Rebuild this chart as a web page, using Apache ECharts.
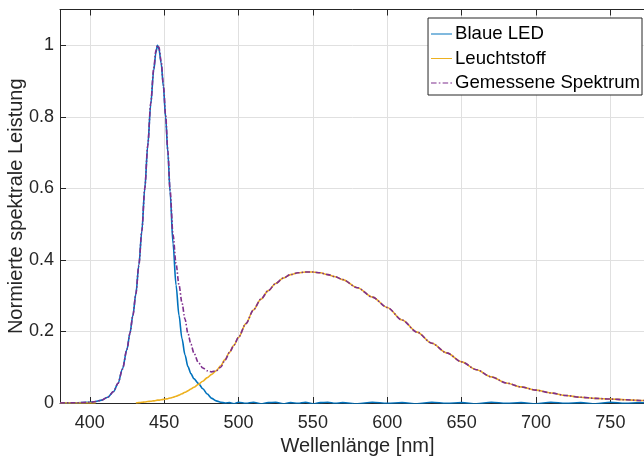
<!DOCTYPE html>
<html>
<head>
<meta charset="utf-8">
<title>Spektrum weiße LED</title>
<script src="https://cdn.jsdelivr.net/npm/echarts@6/dist/echarts.min.js"></script>
<style>
  html, body { margin: 0; padding: 0; background: #ffffff; }
  #chart { width: 644px; height: 457px; }
</style>
</head>
<body>
<div id="chart"></div>
<script>
// Wavelength samples [nm]
const wavelengths = [
  380, 390, 400, 404, 408, 412, 416, 419, 422, 425, 427, 429, 431, 433, 435, 437, 439, 441, 443,
  444.5, 445.5, 446.5, 448, 449.5, 451, 452.5, 454, 456, 458, 460, 462, 464, 466, 468, 470,
  473, 476, 479, 482, 485, 488, 491, 494, 497, 500, 505, 510, 515, 520, 525, 530, 535, 540,
  545, 550, 555, 560, 565, 570, 580, 590, 600, 610, 620, 630, 640, 650, 660, 670, 680, 690,
  700, 710, 720, 730, 740, 750, 760, 770, 780
];

// Blue LED emission (normalised)
const blueLed = [
  0, 0.0005, 0.002, 0.004, 0.008, 0.016, 0.032, 0.055, 0.095, 0.15, 0.195, 0.245, 0.305, 0.385, 0.48, 0.6, 0.72, 0.835, 0.93,
  0.98, 1.0, 0.99, 0.95, 0.885, 0.8, 0.7, 0.59, 0.445, 0.33, 0.245, 0.18, 0.135, 0.102, 0.082, 0.068,
  0.055, 0.04, 0.025, 0.013, 0.006, 0.002, 0, 0.001, -0.002, 0.002, -0.001, 0.002, -0.002, 0.001, 0.002, -0.002, 0.001, -0.001,
  0.002, -0.002, 0.001, 0.002, -0.001, 0.001, -0.002, 0.002, -0.001, 0.001, -0.002, 0.002, -0.001, 0.001, -0.002, 0.002, -0.001, 0.001,
  -0.002, 0.002, -0.001, 0.001, -0.002, 0.002, -0.001, 0.001, 0
];

// Phosphor emission (normalised); no samples between 404 and 429 nm
const phosphor = [
  0, 0, 0, 0, null, null, null, null, null, null, null, null, 0, 0.001, 0.002, 0.003, 0.004, 0.005, 0.006,
  0.007, 0.008, 0.008, 0.009, 0.01, 0.011, 0.012, 0.014, 0.016, 0.019, 0.022, 0.026, 0.03, 0.034, 0.039, 0.044,
  0.052, 0.061, 0.071, 0.08, 0.09, 0.104, 0.122, 0.142, 0.162, 0.183, 0.222, 0.26, 0.29, 0.314, 0.334, 0.349, 0.359, 0.364,
  0.366, 0.366, 0.364, 0.359, 0.353, 0.345, 0.322, 0.296, 0.267, 0.232, 0.198, 0.167, 0.14, 0.115, 0.093, 0.073, 0.056, 0.045,
  0.036, 0.028, 0.021, 0.016, 0.013, 0.011, 0.009, 0.007, 0.006
];

// Measured total spectrum (normalised)
const measured = [
  0, 0.0005, 0.002, 0.004, 0.008, 0.016, 0.032, 0.055, 0.095, 0.15, 0.195, 0.245, 0.305, 0.385, 0.48, 0.6, 0.72, 0.838, 0.935,
  0.985, 1.0, 0.995, 0.955, 0.89, 0.805, 0.705, 0.595, 0.47, 0.39, 0.33, 0.28, 0.235, 0.195, 0.165, 0.14,
  0.113, 0.098, 0.09, 0.087, 0.09, 0.1, 0.12, 0.142, 0.162, 0.184, 0.222, 0.26, 0.29, 0.314, 0.334, 0.349, 0.359, 0.364,
  0.366, 0.366, 0.364, 0.359, 0.353, 0.345, 0.322, 0.296, 0.267, 0.232, 0.198, 0.167, 0.14, 0.115, 0.093, 0.073, 0.056, 0.045,
  0.036, 0.028, 0.021, 0.016, 0.013, 0.011, 0.009, 0.007, 0.006
];

const xTicks = [400, 450, 500, 550, 600, 650, 700, 750];
const yTicks = [0, 0.2, 0.4, 0.6, 0.8, 1];

const seriesNames = ['Blaue LED', 'Leuchtstoff', 'Gemessene Spektrum'];
const seriesColors = ['#0072BD', '#EDB120', '#7E2F8E'];

// Legend glyphs: solid strokes and a dash-dot stroke
const solidIcon = 'path://M0,0h21v1h-21z';
const dashDotIcon = 'path://M0,0h5v1h-5z M7,0h1.5v1h-1.5z M10.5,0h5v1h-5z M17.5,0h1.5v1h-1.5z';
const legendIcons = [solidIcon, solidIcon, dashDotIcon];

const pairs = (ys) => wavelengths.map((w, i) => [w, ys[i]]);

const axisColor = '#262626';
const fontFamily = '"Liberation Sans", Arial, Helvetica, sans-serif';

const chart = echarts.init(document.getElementById('chart'), null, { renderer: 'canvas' });

chart.setOption({
  backgroundColor: '#ffffff',
  animation: false,
  textStyle: { fontFamily: fontFamily },
  grid: { left: 60, top: 9.5, right: -11, bottom: 54, containLabel: false, outerBoundsMode: 'none' },
  legend: {
    orient: 'vertical',
    right: 2,
    top: 18,
    selectedMode: false,
    backgroundColor: '#ffffff',
    borderColor: axisColor,
    borderWidth: 1,
    borderRadius: 0,
    padding: [6, 2, 2, 3],
    itemGap: 4.5,
    itemWidth: 21,
    itemHeight: 1.6,
    textStyle: { fontSize: 18.6, color: '#000000', padding: [0, 0, 0, -2], lineHeight: 20, fontFamily: fontFamily },
    data: seriesNames.map((n, i) => ({ name: n, icon: legendIcons[i], itemStyle: { color: seriesColors[i] } }))
  },
  xAxis: [
    {
      type: 'value',
      min: 380,
      max: 780,
      name: 'Wellenlänge [nm]',
      nameLocation: 'middle',
      nameGap: 33,
      nameMoveOverlap: false,
      nameTextStyle: { fontSize: 20, color: axisColor },
      axisLine: { show: true, onZero: false, lineStyle: { color: axisColor, width: 1 } },
      axisTick: { show: true, inside: true, length: 6, customValues: xTicks, lineStyle: { color: axisColor } },
      axisLabel: { customValues: xTicks, fontSize: 18, color: axisColor, margin: 11 },
      splitLine: { show: true, lineStyle: { color: '#e0e0e0', width: 1 } }
    },
    {
      type: 'value',
      position: 'top',
      min: 380,
      max: 780,
      axisLine: { show: true, onZero: false, lineStyle: { color: axisColor, width: 1 } },
      axisTick: { show: true, inside: true, length: 6, customValues: xTicks, lineStyle: { color: axisColor } },
      axisLabel: { show: false },
      splitLine: { show: false }
    }
  ],
  yAxis: [
    {
      type: 'value',
      min: 0,
      max: 1.1,
      name: 'Normierte spektrale Leistung',
      nameLocation: 'middle',
      nameGap: 34,
      nameMoveOverlap: false,
      nameTextStyle: { fontSize: 20, color: axisColor },
      axisLine: { show: true, onZero: false, lineStyle: { color: axisColor, width: 1 } },
      axisTick: { show: true, inside: true, length: 6, customValues: yTicks, lineStyle: { color: axisColor } },
      axisLabel: { customValues: yTicks, fontSize: 18, color: axisColor, margin: 6 },
      splitLine: { show: true, lineStyle: { color: '#e0e0e0', width: 1 } }
    },
    {
      type: 'value',
      position: 'right',
      min: 0,
      max: 1.1,
      axisLine: { show: true, onZero: false, lineStyle: { color: axisColor, width: 1 } },
      axisTick: { show: false },
      axisLabel: { show: false },
      splitLine: { show: false }
    }
  ],
  series: [
    {
      name: seriesNames[0],
      type: 'line',
      data: pairs(blueLed),
      symbol: 'none',
      smooth: 0.3,
      smoothMonotone: 'x',
      color: seriesColors[0],
      lineStyle: { color: seriesColors[0], width: 1.6 },
      z: 3
    },
    {
      name: seriesNames[1],
      type: 'line',
      data: pairs(phosphor),
      symbol: 'none',
      smooth: 0.3,
      smoothMonotone: 'x',
      connectNulls: false,
      color: seriesColors[1],
      lineStyle: { color: seriesColors[1], width: 1.6 },
      z: 4
    },
    {
      name: seriesNames[2],
      type: 'line',
      data: pairs(measured),
      symbol: 'none',
      smooth: 0.3,
      smoothMonotone: 'x',
      color: seriesColors[2],
      lineStyle: { color: seriesColors[2], width: 1.6, type: [5, 2, 1.5, 2] },
      z: 5
    }
  ]
});
</script>
</body>
</html>
